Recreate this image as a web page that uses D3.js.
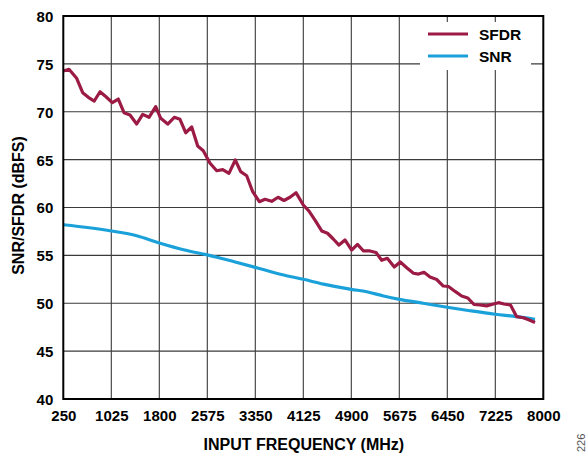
<!DOCTYPE html>
<html>
<head>
<meta charset="utf-8">
<script src="https://cdn.jsdelivr.net/npm/d3@7"></script>
<style>
  html, body { margin: 0; padding: 0; background: #fff; }
  svg { display: block; font-family: "Liberation Sans", Arial, sans-serif; }
</style>
</head>
<body>
<svg id="chart" width="587" height="455"></svg>
<script>
// ---- data ----
const xTicks = [250, 1025, 1800, 2575, 3350, 4125, 4900, 5675, 6450, 7225, 8000];
const yTicks = [40, 45, 50, 55, 60, 65, 70, 75, 80];

const sfdrFreq = [250, 342, 466, 563, 654, 750, 843, 939, 1041, 1138, 1230, 1327, 1435, 1532, 1634, 1742, 1823, 1936, 2042, 2134, 2226, 2323, 2420, 2510, 2619, 2727, 2824, 2925, 3027, 3114, 3211, 3308, 3415, 3507, 3615, 3717, 3813, 3910, 4007, 4125, 4217, 4314, 4422, 4516, 4609, 4701, 4798, 4906, 5000, 5097, 5202, 5299, 5391, 5481, 5594, 5691, 5799, 5904, 5985, 6074, 6171, 6279, 6385, 6469, 6582, 6682, 6779, 6881, 6978, 7086, 7180, 7277, 7366, 7470, 7571, 7677, 7774, 7866];
const sfdrValues = [74.26, 74.43, 73.49, 71.99, 71.51, 71.12, 72.09, 71.57, 70.95, 71.33, 69.9, 69.66, 68.72, 69.73, 69.42, 70.53, 69.32, 68.72, 69.42, 69.21, 67.81, 68.41, 66.42, 65.93, 64.62, 63.84, 63.95, 63.57, 64.96, 63.74, 63.32, 61.65, 60.61, 60.86, 60.65, 61.07, 60.73, 61.07, 61.55, 60.26, 59.63, 58.69, 57.55, 57.31, 56.71, 56.08, 56.61, 55.56, 56.14, 55.46, 55.46, 55.3, 54.49, 54.69, 53.79, 54.31, 53.68, 53.13, 53.05, 53.23, 52.74, 52.48, 51.8, 51.75, 51.21, 50.76, 50.55, 49.87, 49.82, 49.73, 49.9, 50.06, 49.92, 49.82, 48.6, 48.49, 48.25, 47.99];

const snrFreq = [250, 1025, 1435, 1800, 2210, 2575, 3010, 3350, 3770, 4125, 4450, 4900, 5150, 5420, 5675, 6060, 6450, 6815, 7225, 7570, 7866];
const snrValues = [58.2, 57.55, 57.05, 56.3, 55.56, 55.05, 54.34, 53.75, 53.0, 52.5, 52.0, 51.45, 51.2, 50.76, 50.41, 50.0, 49.58, 49.22, 48.85, 48.6, 48.32];

const seriesNames = ["SFDR", "SNR"];
const xTitle = "INPUT FREQUENCY (MHz)";
const yTitle = "SNR/SFDR (dBFS)";
const figId = "226";

// ---- layout ----
const L = 63.3, R = 543.3, T = 16, B = 399;
const colors = { SFDR: "#9c1b45", SNR: "#1ba1d9" };

const svg = d3.select("#chart");
const x = d3.scaleLinear().domain([250, 8000]).range([L, R]);
const y = d3.scaleLinear().domain([40, 80]).range([B, T]);

// grid
const grid = svg.append("g").attr("stroke", "#3a3a3a").attr("stroke-width", 1.1);
grid.selectAll("line.v").data(xTicks.slice(1, -1)).join("line")
  .attr("x1", d => x(d)).attr("x2", d => x(d)).attr("y1", T).attr("y2", B);
grid.selectAll("line.h").data(yTicks.slice(1, -1)).join("line")
  .attr("y1", d => y(d)).attr("y2", d => y(d)).attr("x1", L).attr("x2", R);

// legend background (covers grid)
svg.append("rect").attr("x", 420).attr("y", 22).attr("width", 111).attr("height", 48).attr("fill", "#fff");

// lines
const sfdrData = sfdrFreq.map((f, i) => [f, sfdrValues[i]]);
const snrData = snrFreq.map((f, i) => [f, snrValues[i]]);

svg.append("path").datum(snrData)
  .attr("fill", "none").attr("stroke", colors.SNR).attr("stroke-width", 3.2)
  .attr("stroke-linejoin", "round")
  .attr("d", d3.line().x(d => x(d[0])).y(d => y(d[1])).curve(d3.curveMonotoneX));

svg.append("path").datum(sfdrData)
  .attr("fill", "none").attr("stroke", colors.SFDR).attr("stroke-width", 3.2)
  .attr("stroke-linejoin", "round")
  .attr("d", d3.line().x(d => x(d[0])).y(d => y(d[1])));

// border
svg.append("rect").attr("x", L).attr("y", T).attr("width", R - L).attr("height", B - T)
  .attr("fill", "none").attr("stroke", "#000").attr("stroke-width", 2);

// axes labels
const xAxis = svg.append("g").attr("transform", `translate(0,${B})`)
  .call(d3.axisBottom(x).tickValues(xTicks).tickSize(0).tickPadding(0).tickFormat(d3.format("d")));
xAxis.select(".domain").remove();
xAxis.selectAll("text").attr("dy", null).attr("y", 22).attr("font-size", 15).attr("font-weight", "bold")
  .attr("fill", "#000").attr("font-family", "Liberation Sans, Arial, sans-serif");

const yAxis = svg.append("g").attr("transform", `translate(${L},0)`)
  .call(d3.axisLeft(y).tickValues(yTicks).tickSize(0).tickPadding(0).tickFormat(d3.format("d")));
yAxis.select(".domain").remove();
yAxis.selectAll("text").attr("x", -10).attr("dy", "0.36em").attr("font-size", 15).attr("font-weight", "bold")
  .attr("fill", "#000").attr("font-family", "Liberation Sans, Arial, sans-serif");

// titles
svg.append("text").attr("x", (L + R) / 2 + 0.5).attr("y", 449.5).attr("text-anchor", "middle")
  .attr("font-size", 16).attr("font-weight", "bold").text(xTitle);
svg.append("text").attr("transform", `translate(24,${(T + B) / 2 - 2}) rotate(-90)`).attr("text-anchor", "middle")
  .attr("font-size", 16).attr("font-weight", "bold").text(yTitle);

// legend
const leg = svg.append("g");
seriesNames.forEach((n, i) => {
  const yy = 34 + i * 22;
  leg.append("line").attr("x1", 428).attr("x2", 468).attr("y1", yy).attr("y2", yy)
    .attr("stroke", colors[n]).attr("stroke-width", 3.2);
  leg.append("text").attr("x", 479).attr("y", yy + 5.5).attr("font-size", 15.5).attr("font-weight", "bold").text(n);
});

// figure id
svg.append("text").attr("transform", "translate(585,452) rotate(-90)").attr("font-size", 11)
  .attr("fill", "#555").text(figId);
</script>
</body>
</html>
